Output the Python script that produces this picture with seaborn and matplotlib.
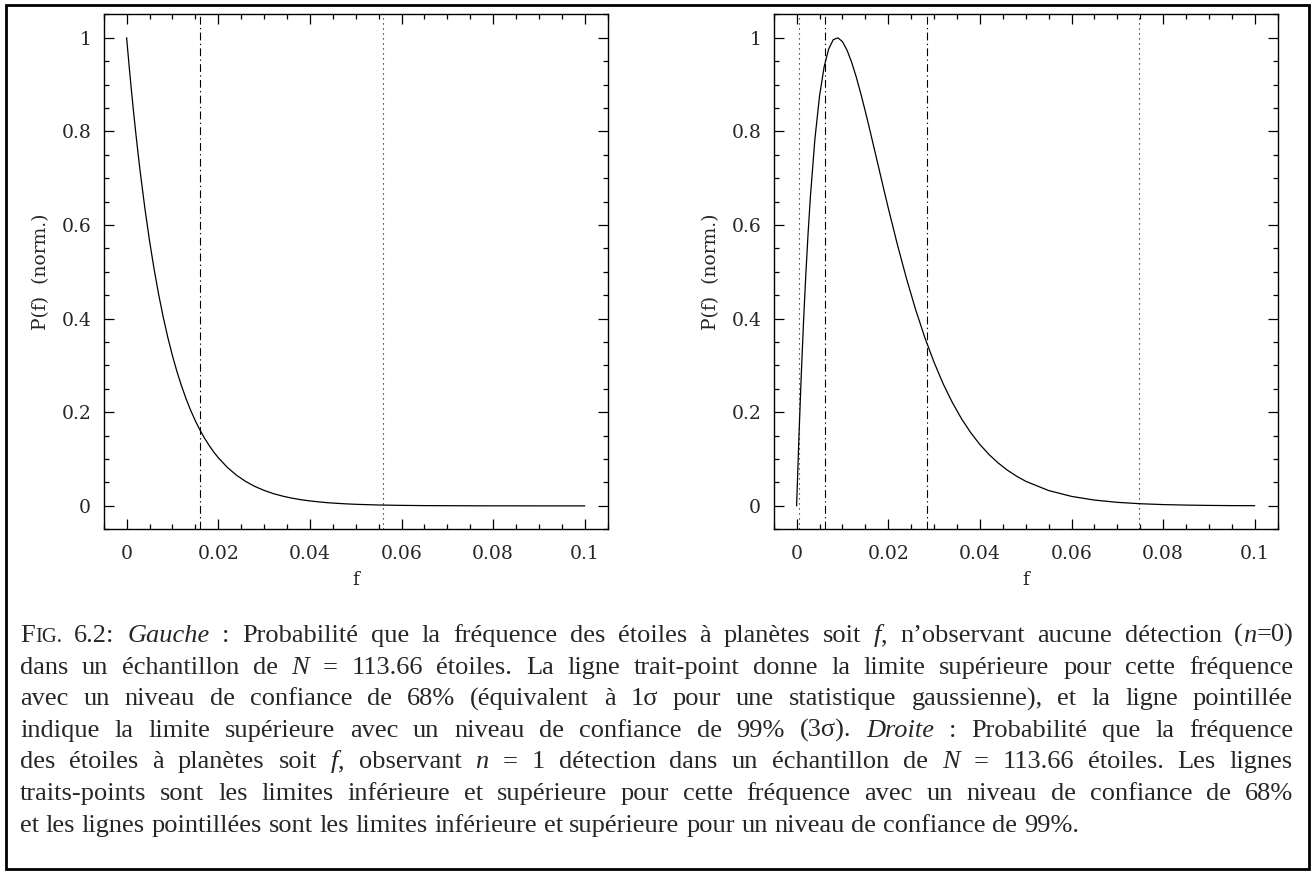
import matplotlib
matplotlib.use('Agg')
import matplotlib.pyplot as plt
import pandas as pd
import seaborn as sns
from matplotlib.patches import Rectangle
from matplotlib.ticker import FixedLocator, FixedFormatter, MultipleLocator

# Grille en f et courbes (normalisées à 1)
F_GRID = [0, 0.0005, 0.001, 0.0015, 0.002, 0.0025, 0.003, 0.004, 0.005, 0.006,
          0.007, 0.008, 0.009, 0.010, 0.011, 0.012, 0.013, 0.014, 0.015, 0.016,
          0.017, 0.018, 0.019, 0.020, 0.022, 0.024, 0.026, 0.028, 0.030, 0.032,
          0.034, 0.036, 0.038, 0.040, 0.042, 0.044, 0.046, 0.048, 0.050, 0.055,
          0.060, 0.065, 0.070, 0.075, 0.080, 0.085, 0.090, 0.095, 0.100]
P_GAUCHE = [1.0, 0.9448, 0.8926, 0.8433, 0.7967, 0.7527, 0.7111, 0.6347, 0.5665, 0.5057,
            0.4513, 0.4029, 0.3595, 0.3210, 0.2864, 0.2557, 0.2282, 0.2037, 0.1818, 0.1623,
            0.1448, 0.1293, 0.1154, 0.1030, 0.0821, 0.0654, 0.0521, 0.0415, 0.0331, 0.0263,
            0.0210, 0.0167, 0.0133, 0.0106, 0.0085, 0.0067, 0.0054, 0.0043, 0.0034, 0.0019,
            0.0011, 0.0006, 0.0004, 0.0002, 0.0001, 0.0001, 0.0, 0.0, 0.0]
P_DROITE = [0.0, 0.1459, 0.2758, 0.3908, 0.4923, 0.5813, 0.6591, 0.7844, 0.8751, 0.9375,
            0.9760, 0.9958, 0.9997, 0.9918, 0.9734, 0.9480, 0.9166, 0.8811, 0.8425, 0.8023,
            0.7605, 0.7191, 0.6774, 0.6365, 0.5580, 0.4849, 0.4185, 0.3590, 0.3068, 0.2604,
            0.2206, 0.1860, 0.1564, 0.1311, 0.1097, 0.0916, 0.0763, 0.0635, 0.0526, 0.0328,
            0.0203, 0.0124, 0.0076, 0.0046, 0.0028, 0.0017, 0.0010, 0.0006, 0.0004]

# limites de confiance (traits-points : 68%, pointillés : 99%)
LIM68_GAUCHE = [0.016]
LIM99_GAUCHE = [0.056]
LIM68_DROITE = [0.0063, 0.0285]
LIM99_DROITE = [0.00055, 0.0747]

X_TICKS = [0, 0.02, 0.04, 0.06, 0.08, 0.1]
X_LABELS = ['0', '0.02', '0.04', '0.06', '0.08', '0.1']
Y_TICKS = [0, 0.2, 0.4, 0.6, 0.8, 1]
Y_LABELS = ['0', '0.2', '0.4', '0.6', '0.8', '1']

# légende : *...* = italique, ~...~ = petites capitales
CAPTION = [
    "F~IG.~ 6.2: *Gauche* : Probabilité que la fréquence des étoiles à planètes soit *f*, n’observant aucune détection (*n*=0)",
    "dans un échantillon de *N* = 113.66 étoiles. La ligne trait-point donne la limite supérieure pour cette fréquence",
    "avec un niveau de confiance de 68% (équivalent à 1σ pour une statistique gaussienne), et la ligne pointillée",
    "indique la limite supérieure avec un niveau de confiance de 99% (3σ). *Droite* : Probabilité que la fréquence",
    "des étoiles à planètes soit *f*, observant *n* = 1 détection dans un échantillon de *N* = 113.66 étoiles. Les lignes",
    "traits-points sont les limites inférieure et supérieure pour cette fréquence avec un niveau de confiance de 68%",
    "et les lignes pointillées sont les limites inférieure et supérieure pour un niveau de confiance de 99%.",
]

sns.set_style('ticks')
plt.rcParams['font.family'] = ['DejaVu Serif']

W, H = 1312, 873
fig = plt.figure(figsize=(W / 100, H / 100), dpi=100)

DASHDOT = (0, (7, 3, 1.2, 3))
DOTTED = (0, (1, 3.5))


def panneau(rect, y, lim68, lim99):
    ax = fig.add_axes(rect)
    df = pd.DataFrame({'f': F_GRID, 'P': y})
    sns.lineplot(data=df, x='f', y='P', ax=ax, color='black', linewidth=0.9, sort=False)
    for v in lim68:
        ax.axvline(v, color='black', linewidth=0.8, linestyle=DASHDOT)
    for v in lim99:
        ax.axvline(v, color='black', linewidth=0.8, linestyle=DOTTED)
    ax.set_xlim(-0.005, 0.105)
    ax.set_ylim(-0.05, 1.05)
    ax.xaxis.set_major_locator(FixedLocator(X_TICKS))
    ax.xaxis.set_major_formatter(FixedFormatter(X_LABELS))
    ax.yaxis.set_major_locator(FixedLocator(Y_TICKS))
    ax.yaxis.set_major_formatter(FixedFormatter(Y_LABELS))
    ax.xaxis.set_minor_locator(MultipleLocator(0.005))
    ax.yaxis.set_minor_locator(MultipleLocator(0.05))
    ax.tick_params(which='both', direction='in', top=True, right=True, color='black', width=0.9)
    ax.tick_params(which='major', length=7.5)
    ax.tick_params(which='minor', length=3.8)
    ax.tick_params(axis='x', which='major', pad=11, labelsize=13.5)
    ax.tick_params(axis='y', which='major', pad=9, labelsize=13.5)
    for s in ax.spines.values():
        s.set_linewidth(1.0)
        s.set_color('black')
    ax.set_xlabel('f', fontsize=13.5, labelpad=6)
    ax.set_ylabel('P(f)  (norm.)', fontsize=13.5, labelpad=8)
    return ax


panneau([103.7 / W, 1 - 529.3 / H, 504 / W, 515 / H], P_GAUCHE, LIM68_GAUCHE, LIM99_GAUCHE)
panneau([773.7 / W, 1 - 529.3 / H, 504 / W, 515 / H], P_DROITE, LIM68_DROITE, LIM99_DROITE)

# cadre autour de la figure
fig.patches.append(Rectangle((5.5 / W, 4 / H), 1303.5 / W, 864.5 / H, transform=fig.transFigure,
                             fill=False, edgecolor='black', linewidth=2.0))

# légende justifiée, mot par mot
FS = 19.0
X0, X1 = 20, 1293
BASE0, STEP = 642, 31.6
renderer = fig.canvas.get_renderer()


def morceaux(mot):
    out, buf, it, sc = [], '', False, False
    for ch in mot:
        if ch in '*~':
            if buf:
                out.append((buf, it, sc))
                buf = ''
            if ch == '*':
                it = not it
            else:
                sc = not sc
        else:
            buf += ch
    if buf:
        out.append((buf, it, sc))
    return out


def largeur(t):
    return t.get_window_extent(renderer).width


tmp1 = fig.text(0, 0, 'a a', fontsize=FS, family='Liberation Serif')
tmp2 = fig.text(0, 0, 'aa', fontsize=FS, family='Liberation Serif')
espace = largeur(tmp1) - largeur(tmp2)
tmp1.remove()
tmp2.remove()

for i, ligne in enumerate(CAPTION):
    yb = 1 - (BASE0 + i * STEP) / H
    mots = []
    for mot in ligne.split(' '):
        textes = []
        for s, it, sc in morceaux(mot):
            t = fig.text(0, yb, s, fontsize=FS * (0.78 if sc else 1.0),
                         style='italic' if it else 'normal',
                         family='Liberation Serif', va='baseline', ha='left')
            textes.append(t)
        mots.append((textes, [largeur(t) for t in textes]))
    total = sum(sum(w) for _, w in mots)
    if i < len(CAPTION) - 1:
        gap = (X1 - X0 - total) / (len(mots) - 1)
    else:
        gap = espace
    x = X0
    for textes, ws in mots:
        for t, w in zip(textes, ws):
            t.set_x(x / W)
            x += w
        x += gap

fig.savefig('out.png', dpi=100)
